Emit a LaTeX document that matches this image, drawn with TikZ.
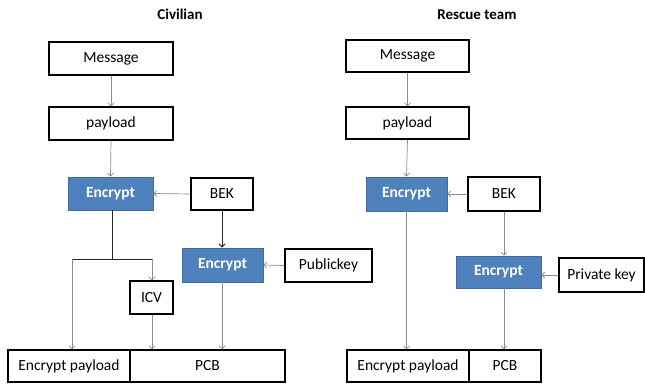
\documentclass[tikz,border=0pt]{standalone}
\usepackage{fontspec}
\setmainfont{Carlito}
\usetikzlibrary{arrows.meta}
\definecolor{encblue}{HTML}{4F81BD}
\definecolor{encedge}{HTML}{3F6C9E}
\definecolor{lgray}{HTML}{8C8C8C}
\tikzset{
  box/.style={draw=black, line width=1.3pt, fill=white, inner sep=0pt, font=\fontsize{15.5}{18}\selectfont},
  encbox/.style={draw=encedge, line width=0.8pt, fill=encblue, text=white, inner sep=0pt, font=\fontsize{15.5}{18}\selectfont\bfseries},
  title/.style={font=\fontsize{15}{18}\selectfont\bfseries},
  arr/.style={draw=lgray, line width=0.7pt, -{Straight Barb[length=3pt,width=6pt]}},
  darkline/.style={draw=black!85, line width=1pt},
  darkarr/.style={draw=black!85, line width=1pt, -{Straight Barb[length=3pt,width=6pt]}}
}
\begin{document}
\begin{tikzpicture}[x=1pt,y=-1pt]
\useasboundingbox (0,0) rectangle (645,383);
% titles
\node[title] (tL) at (180,14) {Civilian};
\node[title] (tR) at (477,15) {Rescue team};
% left
\node[box, minimum width=124, minimum height=33] (msgL) at (111,58.5) {Message};
\node[box, minimum width=124, minimum height=33] (payL) at (111,123.5) {payload};
\node[encbox, minimum width=85, minimum height=33] (encL) at (110.5,193.5) {Encrypt};
\node[box, minimum width=62, minimum height=32] (bekL) at (222,194) {BEK};
\node[encbox, minimum width=81, minimum height=34] (enc2L) at (222.5,265) {Encrypt};
\node[box, minimum width=87, minimum height=33] (pubL) at (328.5,265.5) {Publickey};
\node[box, minimum width=43, minimum height=33] (icvL) at (151.5,297.5) {ICV};
\node[box, minimum width=122, minimum height=32] (epL) at (69,366) {Encrypt payload};
\node[box, minimum width=155, minimum height=32] (pcbL) at (207.5,366) {PCB};
\coordinate (splitL) at (112,259);
\coordinate (splitLa) at (72,259);
\coordinate (splitLb) at (152,259);
\draw[arr] (msgL.south) -- (payL.north);
\draw[arr] (payL.south) -- (encL.north);
\draw[arr] (bekL.west) -- (encL.east);
\draw[darkarr] (bekL.south) -- (bekL.south |- enc2L.north);
\draw[arr] (pubL.west) -- (enc2L.east);
\draw[darkline] (encL.south -| splitL) -- (splitL);
\draw[darkline] (splitLa) -- (splitLb);
\draw[arr] (splitLa) -- (splitLa |- epL.north);
\draw[arr] (splitLb) -- (splitLb |- icvL.north);
\draw[arr] (icvL.south -| splitLb) -- (splitLb |- pcbL.north);
\draw[arr] (enc2L.south -| bekL.south) -- (bekL.south |- pcbL.north);
% right
\node[box, minimum width=123, minimum height=32] (msgR) at (407.5,56) {Message};
\node[box, minimum width=123, minimum height=32] (payR) at (407.5,123) {payload};
\node[encbox, minimum width=81, minimum height=34] (encR) at (406.5,194) {Encrypt};
\node[box, minimum width=72, minimum height=34] (bekR) at (504,194) {BEK};
\node[encbox, minimum width=85, minimum height=32] (enc2R) at (498.5,272) {Encrypt};
\node[box, minimum width=85, minimum height=34] (privR) at (601.5,275) {Private key};
\node[box, minimum width=122, minimum height=32] (epR) at (408,366) {Encrypt payload};
\node[box, minimum width=72, minimum height=32] (pcbR) at (505,366) {PCB};
\draw[arr] (msgR.south) -- (payR.north);
\draw[arr] (payR.south) -- (encR.north);
\draw[arr] (bekR.west) -- (encR.east);
\draw[arr] (encR.south) -- (encR.south |- epR.north);
\draw[arr] (bekR.south) -- (bekR.south |- enc2R.north);
\draw[arr] (privR.west) -- (privR.west -| enc2R.east);
\draw[arr] (enc2R.south -| bekR.south) -- (bekR.south |- pcbR.north);
\end{tikzpicture}
\end{document}
